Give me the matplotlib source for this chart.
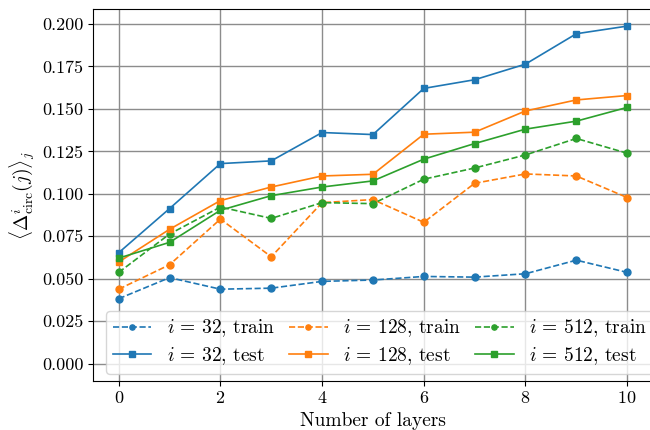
import matplotlib
matplotlib.use("Agg")
import matplotlib.pyplot as plt

layers = list(range(11))

train_32 = [0.0382, 0.0506, 0.0438, 0.0444, 0.0484, 0.0492, 0.0513, 0.0509, 0.0529, 0.0609, 0.0537]
test_32 = [0.0653, 0.0913, 0.1178, 0.1194, 0.1361, 0.1349, 0.1621, 0.1672, 0.1764, 0.1943, 0.1988]
train_128 = [0.0438, 0.0582, 0.0851, 0.0629, 0.0948, 0.0966, 0.0832, 0.1062, 0.1117, 0.1105, 0.0978]
test_128 = [0.0598, 0.0791, 0.0960, 0.1040, 0.1105, 0.1115, 0.1351, 0.1363, 0.1488, 0.1553, 0.1579]
train_512 = [0.0537, 0.0763, 0.0922, 0.0855, 0.0948, 0.0942, 0.1086, 0.1152, 0.1229, 0.1326, 0.1239]
test_512 = [0.0621, 0.0714, 0.0903, 0.0989, 0.1040, 0.1076, 0.1204, 0.1296, 0.1381, 0.1428, 0.1509]

sizes = ["32", "128", "512"]
colors = ["#1f77b4", "#ff7f0e", "#2ca02c"]
train_sets = [train_32, train_128, train_512]
test_sets = [test_32, test_128, test_512]

plt.rcParams["font.family"] = ["cmr10", "DejaVu Serif"]
plt.rcParams["mathtext.fontset"] = "cm"
plt.rcParams["axes.formatter.use_mathtext"] = True
plt.rcParams["font.size"] = 13

fig = plt.figure(figsize=(6.5, 4.3), dpi=100)
ax = fig.add_axes([93.3 / 650, (430 - 380.5) / 430, (652.6 - 93.3) / 650, (380.5 - 9.3) / 430])

for s, c, tr, te in zip(sizes, colors, train_sets, test_sets):
    ax.plot(layers, tr, linestyle="--", marker="o", color=c, lw=1.2, ms=5,
            label=rf"$i\, =\, {s}$, train")
for s, c, tr, te in zip(sizes, colors, train_sets, test_sets):
    ax.plot(layers, te, linestyle="-", marker="s", color=c, lw=1.2, ms=5,
            label=rf"$i\, =\, {s}$, test")

handles, labels = ax.get_legend_handles_labels()
order = [0, 3, 1, 4, 2, 5]
ax.legend([handles[k] for k in order], [labels[k] for k in order], ncol=3,
          loc="lower center", bbox_to_anchor=(0.0125, 0.0, 1.0, 1.0),
          markerscale=0.75, fontsize=14,
          handlelength=2.0, columnspacing=0.7, labelspacing=0.3,
          handletextpad=0.8, borderpad=0.35, borderaxespad=0.35, framealpha=0.8)

ax.set_xlim(-0.5, 10.5)
ax.set_ylim(-0.01, 0.2087)
ax.set_xticks([0, 2, 4, 6, 8, 10])
ax.set_yticks([0.0, 0.025, 0.05, 0.075, 0.1, 0.125, 0.15, 0.175, 0.2])
ax.yaxis.set_major_formatter(matplotlib.ticker.FormatStrFormatter("%.3f"))
ax.grid(True, color="0.55", lw=1.0)
ax.set_axisbelow(True)
ax.set_xlabel("Number of layers", fontsize=14)
ax.set_ylabel(r"$\langle \Delta^{i}_{\rm circ}(j) \rangle_j$", fontsize=14)

fig.savefig("out.png", dpi=100)
